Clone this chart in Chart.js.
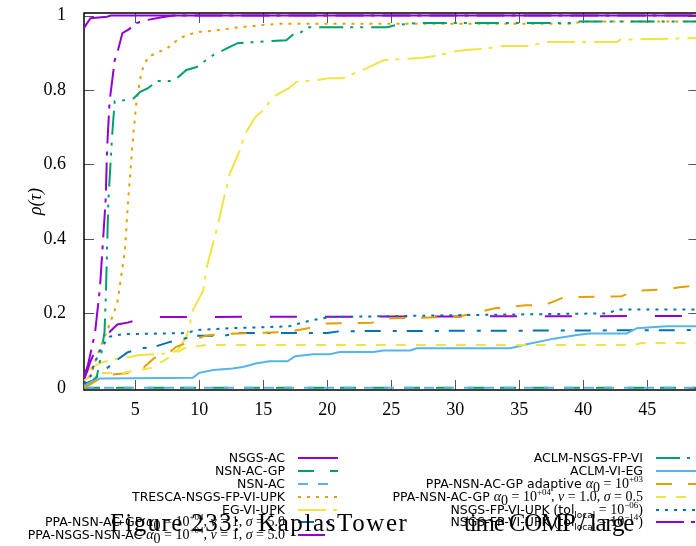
<!DOCTYPE html>
<html>
<head>
    <title>KaplasTower time profile</title>
    <script src="https://cdn.jsdelivr.net/npm/chart.js"></script>
    <style>
        html, body { margin: 0; padding: 0; background: white; overflow: hidden; }
        #wrap { position: relative; width: 696px; height: 546px; overflow: hidden; }
        #plot { position: absolute; left: 0; top: 0; }
        .row { position: absolute; height: 16px; line-height: 16px; white-space: nowrap;
               font-family: "DejaVu Sans", sans-serif; font-size: 12.5px; color: #000; text-align: right; }
        .row .m { font-family: "Liberation Serif", serif; font-size: 14px; }
        .row i { font-family: "Liberation Serif", serif; font-size: 14px; }
        .row sup, .row sub { font-size: 9px; line-height: 0; }
        .sample { position: absolute; }
        .cap { position: absolute; top: 511px; font-family: "Liberation Serif", serif;
               font-size: 25px; line-height: 24px; white-space: pre; color: #000; }
    </style>
</head>
<body>
<div id="wrap">
    <canvas id="plot" width="700" height="546"></canvas>
    <div id="legend"></div>
    <div class="cap" style="left:110px; letter-spacing:1.4px">Figure 233:</div>
    <div class="cap" style="left:258px; letter-spacing:1.6px">KaplasTower</div>
    <div class="cap" style="left:464px; letter-spacing:-1.2px">time COMP / large</div>
</div>

<script>
    // performance profile data, [tau, rho] pairs
    const nsgsAc = [[1, 0.967], [1.5, 0.993], [2.8, 0.997], [3.1, 1], [49, 1]];
    const nsnAcGp = [[1, 0], [49, 0]];
    const nsnAc = [[1, 0], [49, 0]];
    const trescaNsgsFpViUpk = [[1, 0.005], [1.2, 0.02], [1.6, 0.04], [1.9, 0.075], [2.1, 0.093], [2.5, 0.128],
        [3, 0.17], [3.2, 0.19], [3.6, 0.227], [4.2, 0.37], [4.45, 0.505], [4.85, 0.68], [5.1, 0.77], [5.5, 0.85],
        [6, 0.889], [6.9, 0.903], [7.5, 0.912], [8.5, 0.94], [9.8, 0.956], [11.1, 0.959], [12.7, 0.967],
        [15, 0.975], [16.3, 0.978], [39, 0.978], [40, 0.984], [49, 0.984]];
    const egViUpk = [[1, 0.035], [1.6, 0.055], [2.4, 0.068], [3.6, 0.078], [4.4, 0.082], [5.4, 0.088],
        [6.5, 0.09], [7.7, 0.093], [8.3, 0.1], [9, 0.137], [9.3, 0.175], [9.5, 0.208], [10.3, 0.26],
        [10.6, 0.325], [11.4, 0.43], [11.9, 0.505], [12.4, 0.576], [13.2, 0.64], [13.6, 0.684], [14.4, 0.728],
        [15, 0.746], [15.8, 0.782], [17, 0.805], [17.6, 0.822], [19.2, 0.827], [20.2, 0.832], [21.2, 0.832],
        [22.8, 0.854], [23.6, 0.867], [24.4, 0.88], [27.3, 0.886], [28.6, 0.892], [29.8, 0.903], [31, 0.908],
        [32, 0.91], [33.7, 0.918], [35.6, 0.918], [37.3, 0.929], [42.6, 0.929], [42.9, 0.935], [49, 0.94]];
    const ppaNsnAcGpSigma5 = [[1, 0.01], [1.7, 0.02], [2.6, 0.047], [3.6, 0.075], [4.4, 0.095], [5.4, 0.106],
        [6.5, 0.11], [7.6, 0.122], [8.6, 0.13], [9.8, 0.14], [12, 0.14], [13, 0.147], [20, 0.147],
        [21, 0.152], [49, 0.155]];
    const ppaNsgsNsnAc = [[1, 0.02], [1.5, 0.07], [2, 0.11], [2.6, 0.14], [3, 0.15], [3.6, 0.17], [4.4, 0.175],
        [6, 0.19], [49, 0.193]];
    const aclmNsgsFpVi = [[1, 0], [1.5, 0.01], [2, 0.03], [2.3, 0.08], [2.6, 0.15], [2.7, 0.24], [2.9, 0.5],
        [3.2, 0.68], [3.4, 0.77], [4.8, 0.775], [5.4, 0.795], [6, 0.805], [6.7, 0.824], [8, 0.824], [9, 0.854],
        [9.8, 0.862], [11.1, 0.894], [12.4, 0.916], [13, 0.926], [16.8, 0.934], [17.3, 0.948], [18, 0.956],
        [18.4, 0.969], [24.7, 0.969], [25.4, 0.975], [27, 0.98], [39, 0.98], [39.5, 0.984], [49, 0.984]];
    const aclmViEg = [[1, 0.005], [1.5, 0.015], [2.25, 0.025], [9.5, 0.027], [10, 0.04], [11.1, 0.048],
        [12.6, 0.052], [13.4, 0.056], [14.5, 0.066], [15.5, 0.071], [16.9, 0.071], [17.5, 0.085], [18.9, 0.09],
        [20.2, 0.09], [21, 0.096], [23.6, 0.096], [24.4, 0.1], [26.5, 0.1], [27, 0.106], [34.3, 0.106],
        [35.6, 0.117], [37.7, 0.132], [39.5, 0.142], [40.5, 0.146], [43.4, 0.146], [44.2, 0.16], [46.5, 0.165],
        [49, 0.165]];
    const ppaAdaptive = [[1, 0], [1.5, 0.01], [2, 0.02], [3, 0.035], [4.5, 0.04], [5.5, 0.05], [6.5, 0.08],
        [7.5, 0.09], [8.2, 0.11], [9, 0.12], [10.5, 0.14], [12, 0.145], [17, 0.15], [18.5, 0.16], [20, 0.173],
        [23.5, 0.175], [25, 0.187], [30, 0.19], [31.5, 0.2], [33, 0.213], [35.5, 0.222], [37, 0.222],
        [38.5, 0.243], [43, 0.246], [44, 0.26], [46.5, 0.265], [47.5, 0.27], [49, 0.275]];
    const ppaNsnAcGpSigma05 = [[1, 0.02], [2, 0.04], [4, 0.04], [6.2, 0.053], [7.1, 0.07], [8.8, 0.106],
        [10.5, 0.115], [44, 0.115], [44.5, 0.12], [49, 0.12]];
    const nsgsFpViUpkTol6 = [[1, 0.01], [1.5, 0.03], [1.7, 0.055], [2.25, 0.1], [2.6, 0.12], [3, 0.137],
        [4, 0.144], [9, 0.147], [9.8, 0.155], [12.5, 0.16], [17, 0.165], [18.6, 0.18], [20.2, 0.19],
        [30, 0.195], [42, 0.2], [42.6, 0.21], [49, 0.21]];
    const nsgsFpViUpkTol14 = [[1, 0.03], [1.3, 0.06], [1.86, 0.147], [2.25, 0.27], [2.7, 0.51], [2.8, 0.64],
        [3, 0.77], [3.4, 0.88], [3.6, 0.9], [4, 0.953], [4.5, 0.963], [5.1, 0.98], [5.9, 0.988], [7.2, 0.996],
        [8, 1], [49, 1]];

    const seriesData = [nsgsAc, nsnAcGp, nsnAc, trescaNsgsFpViUpk, egViUpk, ppaNsnAcGpSigma5, ppaNsgsNsnAc,
        aclmNsgsFpVi, aclmViEg, ppaAdaptive, ppaNsnAcGpSigma05, nsgsFpViUpkTol6, nsgsFpViUpkTol14];

    const seriesLabels = [
        'NSGS-AC', 'NSN-AC-GP', 'NSN-AC', 'TRESCA-NSGS-FP-VI-UPK', 'EG-VI-UPK',
        'PPA-NSN-AC-GP α0 = 10^+04, ν = 1, σ = 5.0',
        'PPA-NSGS-NSN-AC α0 = 10^+04, ν = 1, σ = 5.0',
        'ACLM-NSGS-FP-VI', 'ACLM-VI-EG',
        'PPA-NSN-AC-GP adaptive α0 = 10^+03',
        'PPA-NSN-AC-GP α0 = 10^+04, ν = 1.0, σ = 0.5',
        'NSGS-FP-VI-UPK (tol_local = 10^-06)',
        'NSGS-FP-VI-UPK (tol_local = 10^-14)'
    ];
    // same labels with the math typeset for the key
    const legendHtml = [
        'NSGS-AC', 'NSN-AC-GP', 'NSN-AC', 'TRESCA-NSGS-FP-VI-UPK', 'EG-VI-UPK',
        'PPA-NSN-AC-GP <i>α</i><sub class="m">0</sub><span class="m"> = 10<sup>+04</sup>, </span><i>ν</i><span class="m"> = 1, </span><i>σ</i><span class="m"> = 5.0</span>',
        'PPA-NSGS-NSN-AC <i>α</i><sub class="m">0</sub><span class="m"> = 10<sup>+04</sup>, </span><i>ν</i><span class="m"> = 1, </span><i>σ</i><span class="m"> = 5.0</span>',
        'ACLM-NSGS-FP-VI', 'ACLM-VI-EG',
        'PPA-NSN-AC-GP adaptive <i>α</i><sub class="m">0</sub><span class="m"> = 10<sup>+03</sup></span>',
        'PPA-NSN-AC-GP <i>α</i><sub class="m">0</sub><span class="m"> = 10<sup>+04</sup>, </span><i>ν</i><span class="m"> = 1.0, </span><i>σ</i><span class="m"> = 0.5</span>',
        'NSGS-FP-VI-UPK <span class="m">(</span>tol<sub>local</sub><span class="m"> = 10<sup>−06</sup>)</span>',
        'NSGS-FP-VI-UPK <span class="m">(</span>tol<sub>local</sub><span class="m"> = 10<sup>−14</sup>)</span>'
    ];

    const xTickValues = [5, 10, 15, 20, 25, 30, 35, 40, 45];
    const yTickValues = [0, 0.2, 0.4, 0.6, 0.8, 1];

    // gnuplot-like colour and dash cycles
    const palette = ['#9400D3', '#009E73', '#56B4E9', '#E69F00', '#F0E442', '#0072B2'];
    const dashes = [[], [16, 16], [10, 10], [3, 6], [28, 7, 4, 8], [16, 12, 4, 10], [27, 28], [24, 7, 3, 7, 3, 8]];

    const datasets = seriesData.map((pts, i) => ({
        label: seriesLabels[i],
        data: pts.map(p => ({x: p[0], y: p[1]})),
        borderColor: palette[i % palette.length],
        borderDash: dashes[i % dashes.length],
        borderWidth: 2,
        pointRadius: 0,
        fill: false,
        tension: 0,
        order: seriesData.length - i
    }));

    const frame = {
        id: 'frame',
        beforeDatasetsDraw(chart) {
            const {ctx, chartArea: a, scales: {x, y}} = chart;
            ctx.save();
            ctx.strokeStyle = '#555';
            ctx.lineWidth = 1;
            ctx.beginPath();
            xTickValues.forEach(v => {
                const px = Math.round(x.getPixelForValue(v)) + 0.5;
                ctx.moveTo(px, a.bottom); ctx.lineTo(px, a.bottom - 10);
                ctx.moveTo(px, a.top); ctx.lineTo(px, a.top + 10);
            });
            yTickValues.forEach(v => {
                const py = Math.round(y.getPixelForValue(v)) + 0.5;
                ctx.moveTo(a.left, py); ctx.lineTo(a.left + 10, py);
                ctx.moveTo(a.right, py); ctx.lineTo(a.right - 10, py);
            });
            ctx.stroke();
            ctx.strokeStyle = '#000';
            ctx.lineWidth = 1.5;
            ctx.strokeRect(a.left, a.top, a.right - a.left, a.bottom - a.top);
            ctx.restore();
        }
    };

    const tickFont = {family: '"Liberation Serif", serif', size: 18};

    const chart = new Chart(document.getElementById('plot').getContext('2d'), {
        type: 'line',
        data: {datasets: datasets},
        options: {
            responsive: false,
            animation: false,
            layout: {padding: {left: 0, top: 13, right: 1.6, bottom: 0}},
            plugins: {legend: {display: false}, tooltip: {enabled: false}},
            scales: {
                x: {
                    type: 'linear', min: 1, max: 49,
                    afterBuildTicks: s => { s.ticks = xTickValues.map(v => ({value: v})); },
                    afterFit: s => { s.height = 156; s.paddingLeft = 0; s.paddingRight = 0; },
                    grid: {display: false, drawTicks: false},
                    border: {display: false},
                    ticks: {font: tickFont, color: '#000', padding: 9, maxRotation: 0, autoSkip: false,
                        callback: v => String(v)}
                },
                y: {
                    type: 'linear', min: -0.006, max: 1.007,
                    afterBuildTicks: s => { s.ticks = yTickValues.map(v => ({value: v})); },
                    afterFit: s => { s.width = 84; s.paddingTop = 0; s.paddingBottom = 0; },
                    grid: {display: false, drawTicks: false},
                    border: {display: false},
                    ticks: {font: tickFont, color: '#000', padding: 18, autoSkip: false,
                        callback: v => String(v)},
                    title: {display: true, text: 'ρ(τ)', color: '#000',
                        font: {family: '"Liberation Serif", serif', size: 18, style: 'italic'},
                        padding: {top: 25, bottom: 0}}
                }
            }
        },
        plugins: [frame]
    });

    // gnuplot style key: two columns, text right aligned, sample to the right
    const legendBox = document.getElementById('legend');
    const rowY = [457.5, 470.5, 483.5, 496.5, 509.5, 522, 535];
    chart.data.datasets.forEach((ds, i) => {
        const col = i < 7 ? 0 : 1;
        const row = col ? i - 7 : i;
        const textRight = [285, 643][col];
        const sampleLeft = [298, 656][col];
        const cy = rowY[row];

        const t = document.createElement('div');
        t.className = 'row';
        t.style.left = '0px';
        t.style.width = textRight + 'px';
        t.style.top = (cy - 8) + 'px';
        t.innerHTML = legendHtml[i];
        legendBox.appendChild(t);

        const svgNS = 'http://www.w3.org/2000/svg';
        const svg = document.createElementNS(svgNS, 'svg');
        svg.setAttribute('class', 'sample');
        svg.setAttribute('width', '40');
        svg.setAttribute('height', '6');
        svg.style.left = sampleLeft + 'px';
        svg.style.top = (cy - 3) + 'px';
        const ln = document.createElementNS(svgNS, 'line');
        ln.setAttribute('x1', '0'); ln.setAttribute('x2', '40');
        ln.setAttribute('y1', '3'); ln.setAttribute('y2', '3');
        ln.setAttribute('stroke', ds.borderColor);
        ln.setAttribute('stroke-width', '2');
        if (ds.borderDash.length) ln.setAttribute('stroke-dasharray', ds.borderDash.join(' '));
        svg.appendChild(ln);
        legendBox.appendChild(svg);
    });
</script>
</body>
</html>
